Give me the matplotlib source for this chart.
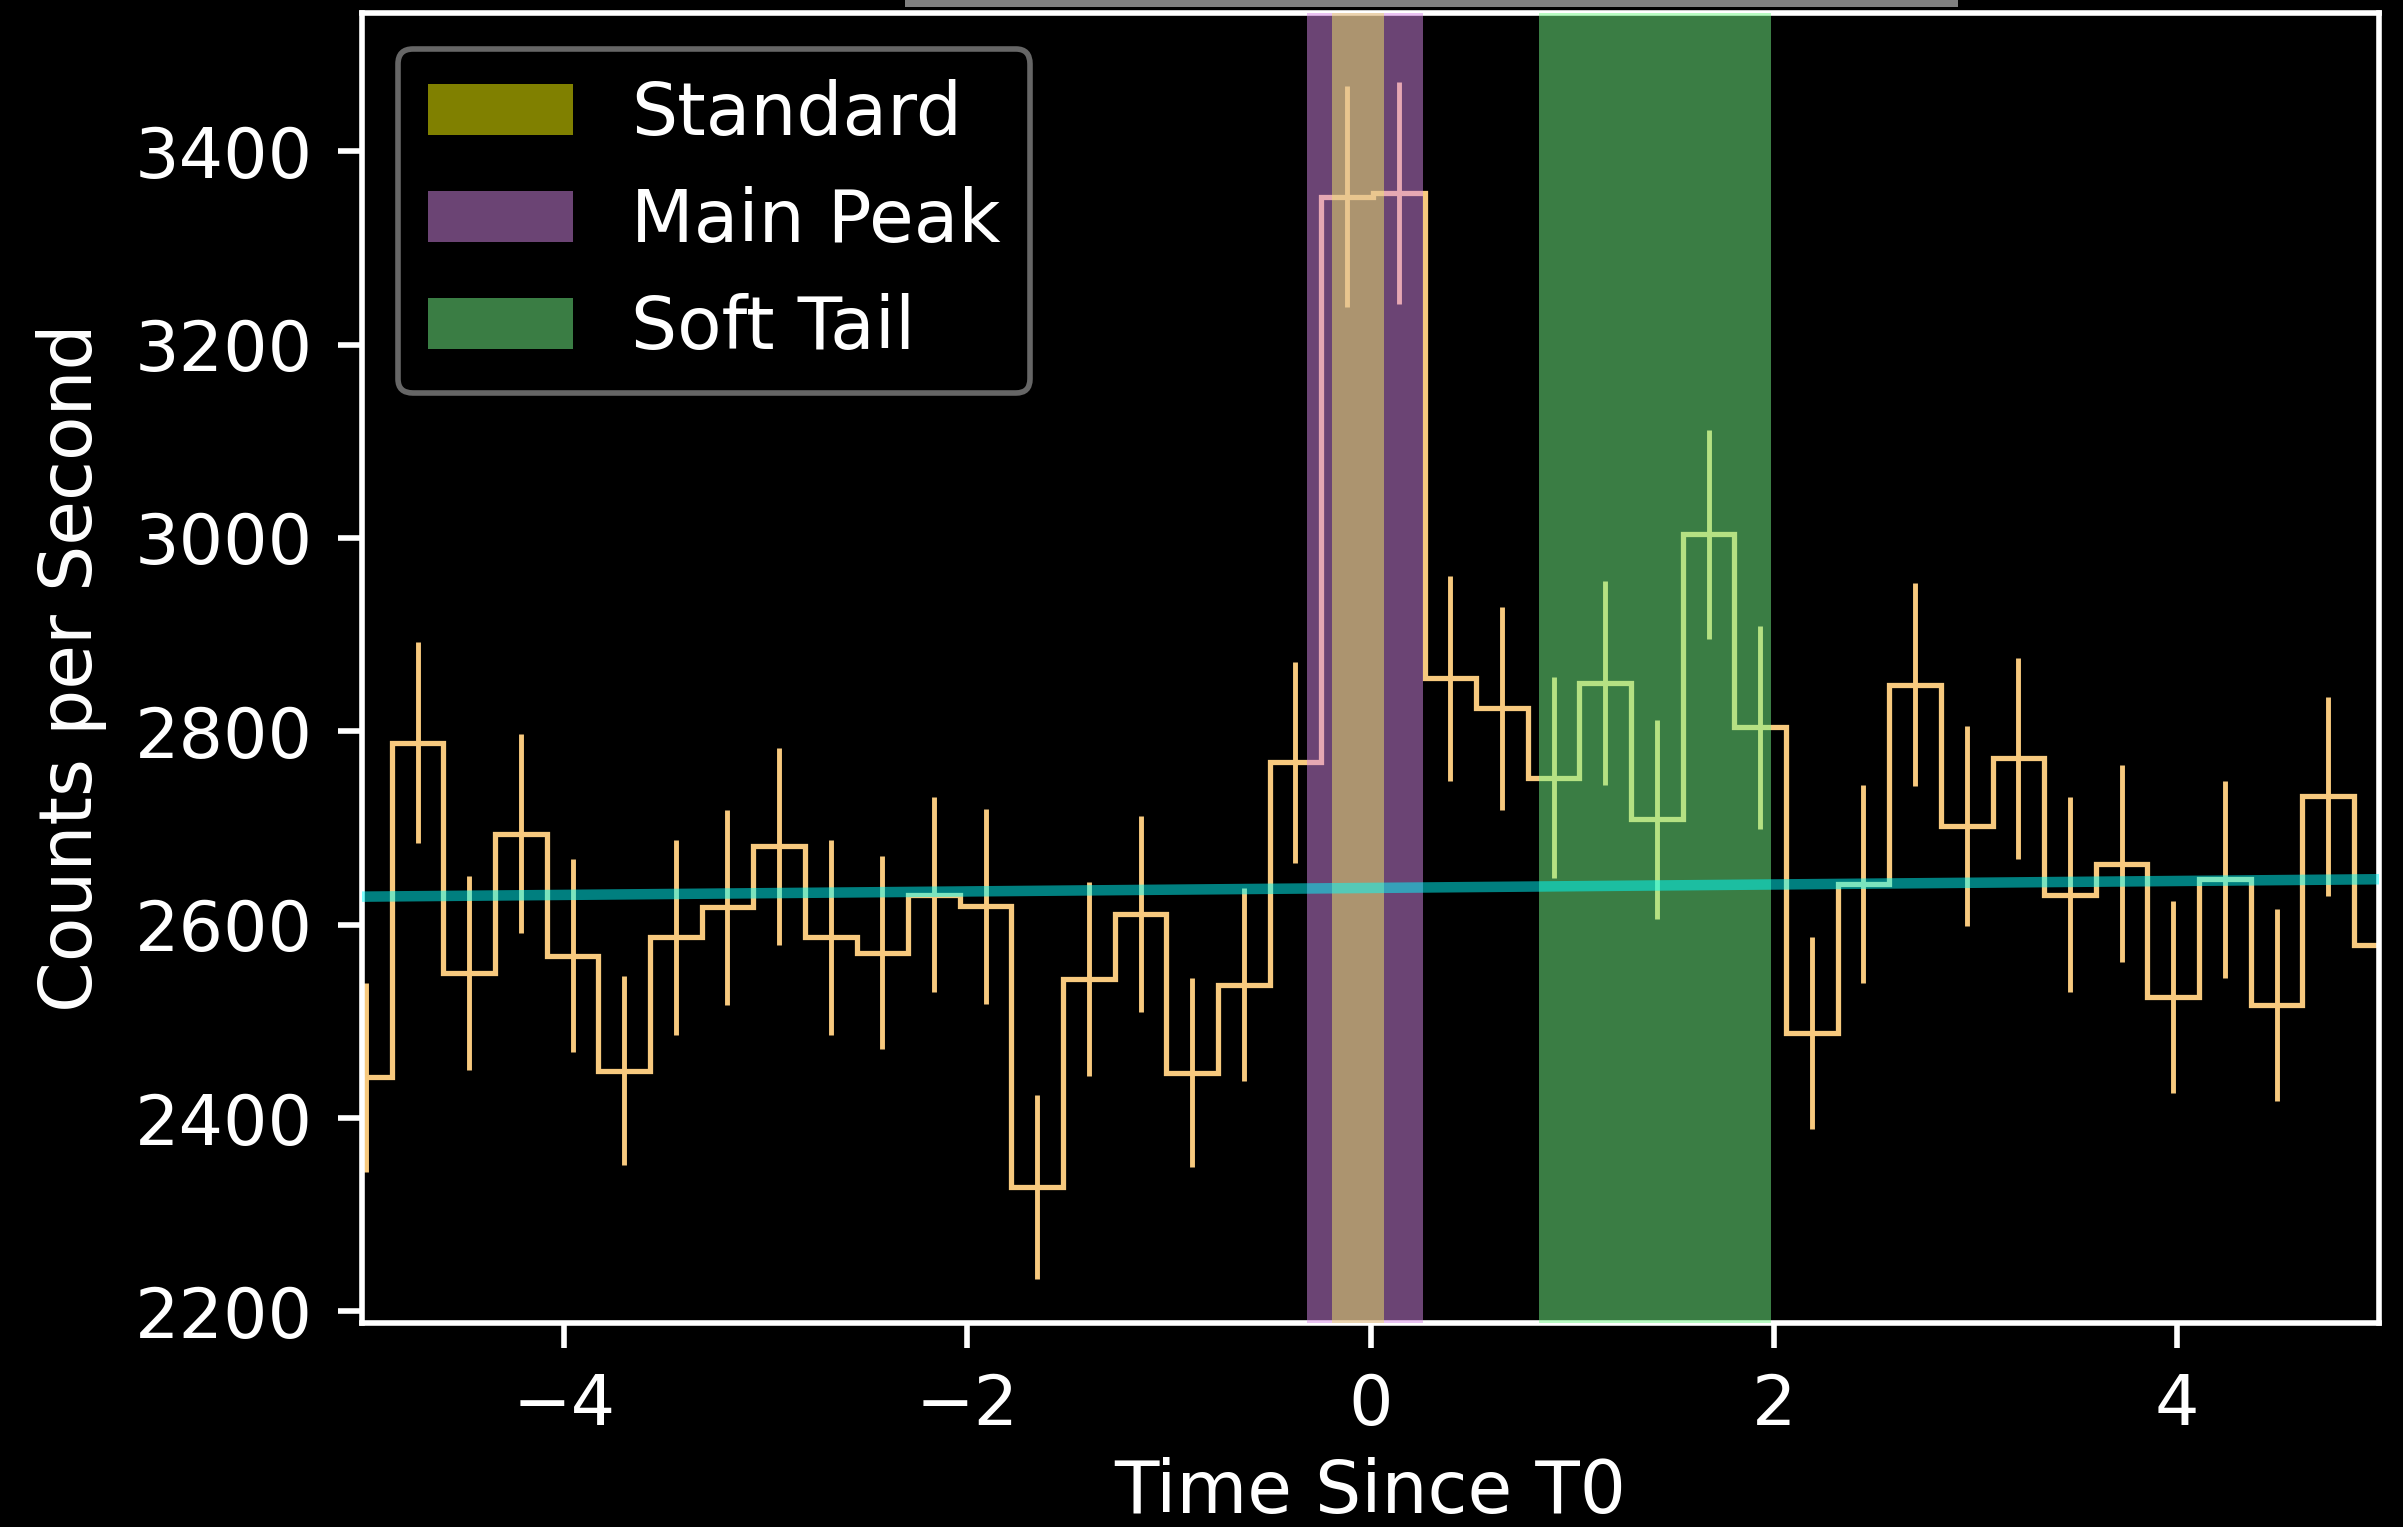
import numpy as np
import matplotlib
matplotlib.use('Agg')
from matplotlib import pyplot as plt
from matplotlib.patches import Patch, Rectangle

# binned light curve (0.256 s bins)
bin_width = 0.256
first_edge = -5.108
rates = [2442, 2788, 2550, 2694, 2568, 2449, 2587, 2618, 2681, 2587,
         2571, 2631, 2619, 2329, 2544, 2611, 2447, 2538, 2768, 3353,
         3357, 2855, 2824, 2752, 2850, 2709, 3004, 2804, 2488, 2642,
         2848, 2702, 2772, 2631, 2663, 2525, 2647, 2517, 2733, 2579]
rate_errs = [98, 104, 100, 103, 100, 98, 101, 101, 102, 101,
             100, 101, 101, 95, 100, 101, 98, 100, 104, 114,
             115, 106, 105, 104, 106, 103, 108, 105, 99, 102,
             105, 103, 104, 101, 102, 99, 102, 99, 103, 100]

# background fit
bkg_times = [-5.0, 5.0]
bkg_rates = [2629, 2647]

# selected intervals
interval_names = ['Standard', 'Main Peak', 'Soft Tail']
interval_starts = [-0.19, -0.315, 0.834]
interval_stops = [0.066, 0.26, 1.987]

plt.style.use('dark_background')

DPI = 504
fig = plt.figure(figsize=(2403 / DPI, 1527 / DPI), dpi=DPI)
ax = fig.add_axes([362 / 2403, 204 / 1527, (2379 - 362) / 2403, (1514 - 204) / 1527])

edges = first_edge + bin_width * np.arange(len(rates) + 1)
centers = edges[:-1] + bin_width / 2

line_color = '#f7c97e'
ax.stairs(rates, edges, color=line_color, lw=0.75, zorder=2)
ax.errorbar(centers, rates, yerr=rate_errs, fmt='none', ecolor=line_color,
            elinewidth=0.7, capsize=0, zorder=2)

# translucent bands drawn over the curve
ax.axvspan(interval_starts[1], interval_stops[1], color='#d688e8', alpha=0.5, lw=0, zorder=3)
ax.axvspan(interval_starts[0], interval_stops[0], color='#ede46c', alpha=0.5, lw=0, zorder=4)
ax.axvspan(interval_starts[2], interval_stops[2], color='#74fa88', alpha=0.5, lw=0, zorder=3)

ax.plot(bkg_times, bkg_rates, color='cyan', alpha=0.5, lw=1.5, zorder=5)

ax.set_xlim(-5, 5)
ax.set_ylim(2188, 3543)
ax.set_yticks([2200, 2400, 2600, 2800, 3000, 3200, 3400])
ax.tick_params(labelsize=10)
ax.set_xlabel('Time Since T0', fontsize=10.4, labelpad=2.5)
ax.set_ylabel('Counts per Second', fontsize=10.4)

handles = [Patch(facecolor=c, edgecolor='none', label=n)
           for c, n in zip(['#808000', '#6b4474', '#3a7d44'], interval_names)]
leg = ax.legend(handles=handles, loc='upper left', facecolor='black',
                edgecolor='0.4', framealpha=1, fontsize=10.4)
leg.get_frame().set_linewidth(0.8)

# grey strip at the very top of the capture
fig.patches.append(Rectangle((905 / 2403, 1 - 7 / 1527), (1958 - 905) / 2403, 7 / 1527,
                             transform=fig.transFigure, color='#808080', lw=0))

fig.savefig('out.png', dpi=DPI, facecolor='black')
